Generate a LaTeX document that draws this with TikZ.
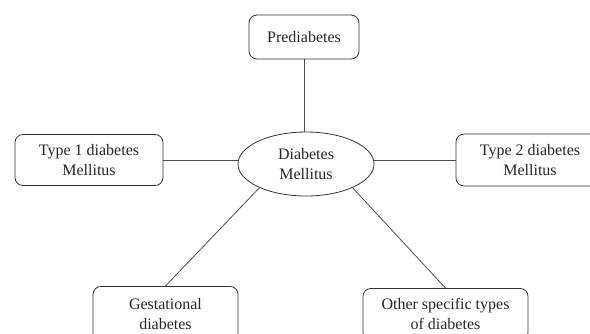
\documentclass[tikz,border=0pt]{standalone}
\usepackage{fontspec}
\setmainfont{Liberation Serif}
\usetikzlibrary{shapes.geometric}
\begin{document}
\begin{tikzpicture}[x=1pt,y=-1pt,
  every node/.style={font=\fontsize{16}{20}\selectfont, text=black!85, align=center},
  rbox/.style={draw=black!80, line width=0.8pt, rounded corners=8pt, inner sep=0pt},
  oval/.style={draw=black!80, line width=0.8pt, ellipse, inner sep=0pt, minimum width=136pt, minimum height=64pt},
  link/.style={draw=black!70, line width=0.8pt}]
\useasboundingbox (0,0) rectangle (590,333);
\clip (0,0) rectangle (590,333);
\node[oval] (dm) at (306,164) {Diabetes\\Mellitus};
\node[rbox, minimum width=110pt, minimum height=44pt] (pre) at (304,37) {Prediabetes};
\node[rbox, minimum width=148pt, minimum height=51pt] (t1) at (89,160) {Type 1 diabetes\\Mellitus};
\node[rbox, minimum width=148pt, minimum height=52pt] (t2) at (530,160) {Type 2 diabetes\\Mellitus};
\node[rbox, minimum width=145pt, minimum height=56pt, anchor=north] (gest) at (165.5,286) {Gestational\\diabetes};
\node[rbox, minimum width=165pt, minimum height=52pt, anchor=north] (other) at (445.5,288) {Other specific types\\of diabetes};
\draw[link] (pre.south) -- (pre.south |- dm.north);
\draw[link] (t1.east) -- (t1.east -| dm.west);
\draw[link] (t2.west) -- (t2.west -| dm.east);
\draw[link] (dm.207) -- (gest.north);
\draw[link] (dm.333) -- (other.north);
\end{tikzpicture}
\end{document}
